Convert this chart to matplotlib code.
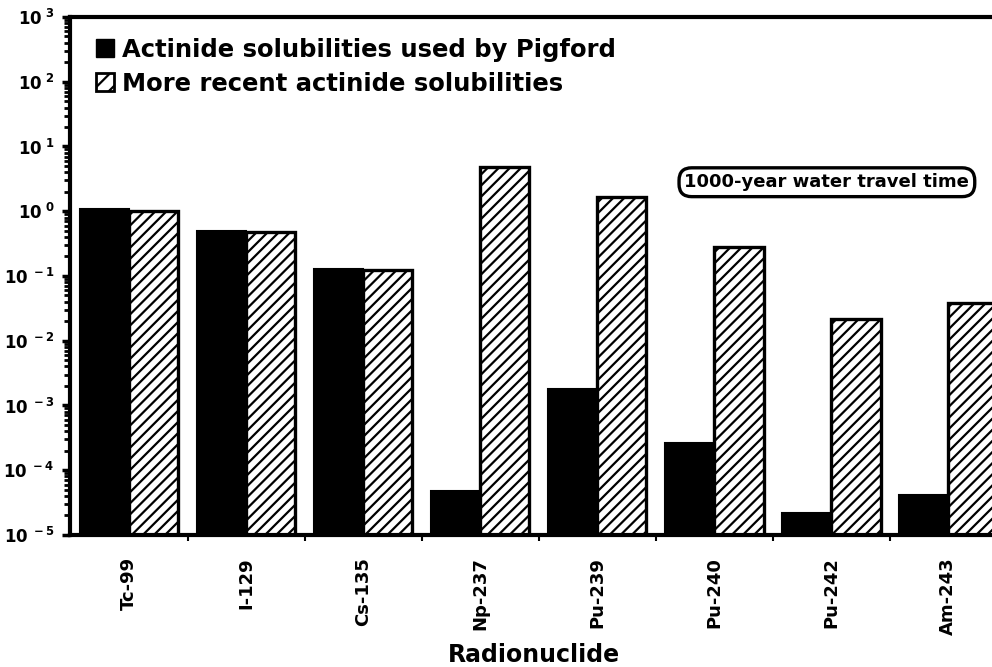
import numpy as np
import matplotlib.pyplot as plt
from matplotlib.patches import Patch
from matplotlib.ticker import LogLocator, FixedLocator, NullFormatter

plt.rcParams['font.family'] = ['DejaVu Sans']
plt.rcParams['font.weight'] = 'bold'
plt.rcParams['mathtext.fontset'] = 'dejavusans'
plt.rcParams['hatch.linewidth'] = 1.6

# data
nuclides = ['Tc-99', 'I-129', 'Cs-135', 'Np-237', 'Pu-239', 'Pu-240', 'Pu-242', 'Am-243']
pigford = [1.1, 0.49, 0.13, 4.6e-5, 1.8e-3, 2.6e-4, 2.1e-5, 4.0e-5]
recent = [1.0, 0.47, 0.125, 4.9, 1.65, 0.28, 0.0215, 0.038]
ytick_vals = [1e-5, 1e-4, 1e-3, 1e-2, 1e-1, 1e0, 1e1, 1e2, 1e3]
ytick_labels = [r'$\mathbf{10^{\ -5}}$', r'$\mathbf{10^{\ -4}}$', r'$\mathbf{10^{\ -3}}$',
                r'$\mathbf{10^{\ -2}}$', r'$\mathbf{10^{\ -1}}$', r'$\mathbf{10^{\ 0}}$',
                r'$\mathbf{10^{\ 1}}$', r'$\mathbf{10^{\ 2}}$', r'$\mathbf{10^{\ 3}}$']

fig = plt.figure(figsize=(9.92, 6.67), dpi=100)
ax = fig.add_axes([0.0706, 0.198, 0.935, 0.7765])

x = np.arange(len(nuclides))
w = 0.42
ax.bar(x - w / 2, pigford, w, bottom=1e-6, color='black', edgecolor='black', linewidth=1.5)
ax.bar(x + w / 2, recent, w, bottom=1e-6, color='white', edgecolor='black', linewidth=2.4, hatch='///')

ax.set_yscale('log')
ax.set_ylim(1e-5, 1e3)
ax.set_xlim(-0.506, 7.42)

ax.set_yticks(ytick_vals)
ax.set_yticklabels(ytick_labels, fontsize=12)
ax.yaxis.set_minor_locator(LogLocator(base=10, subs=np.arange(2, 10), numticks=20))
ax.yaxis.set_minor_formatter(NullFormatter())
ax.tick_params(axis='y', which='major', length=6, width=2.5, direction='out', pad=5)
ax.tick_params(axis='y', which='minor', length=4, width=2, direction='out')

ax.set_xticks(x)
ax.set_xticklabels(nuclides, rotation=90, fontsize=13, fontweight='bold')
ax.xaxis.set_minor_locator(FixedLocator(x[:-1] + 0.5))
ax.tick_params(axis='x', which='major', length=0, pad=16)
ax.tick_params(axis='x', which='minor', length=4, width=1.5, direction='out')
ax.set_xlabel('Radionuclide', fontsize=17, fontweight='bold')
ax.xaxis.set_label_coords(0.5, -0.208)

ax.spines['right'].set_visible(False)
ax.spines['left'].set_linewidth(3)
ax.spines['bottom'].set_linewidth(3)
ax.spines['top'].set_linewidth(3)
ax.spines['top'].set_linestyle((0, (20, 1)))

handles = [Patch(facecolor='black', edgecolor='black'),
           Patch(facecolor='white', edgecolor='black', hatch='//', linewidth=2)]
ax.legend(handles, ['Actinide solubilities used by Pigford', 'More recent actinide solubilities'],
          loc='upper left', bbox_to_anchor=(0.006, 1.0), frameon=False,
          prop={'size': 17.5, 'weight': 'bold'}, handlelength=0.75, handleheight=0.75,
          handletextpad=0.3, labelspacing=0.42, borderaxespad=0.45)

ax.text(0.816, 0.681, '1000-year water travel time', transform=ax.transAxes,
        ha='center', va='center', fontsize=13, fontweight='bold',
        bbox=dict(boxstyle='round,pad=0.3,rounding_size=0.7', fc='white', ec='black', lw=2.4))

fig.savefig('out.png', dpi=100)
